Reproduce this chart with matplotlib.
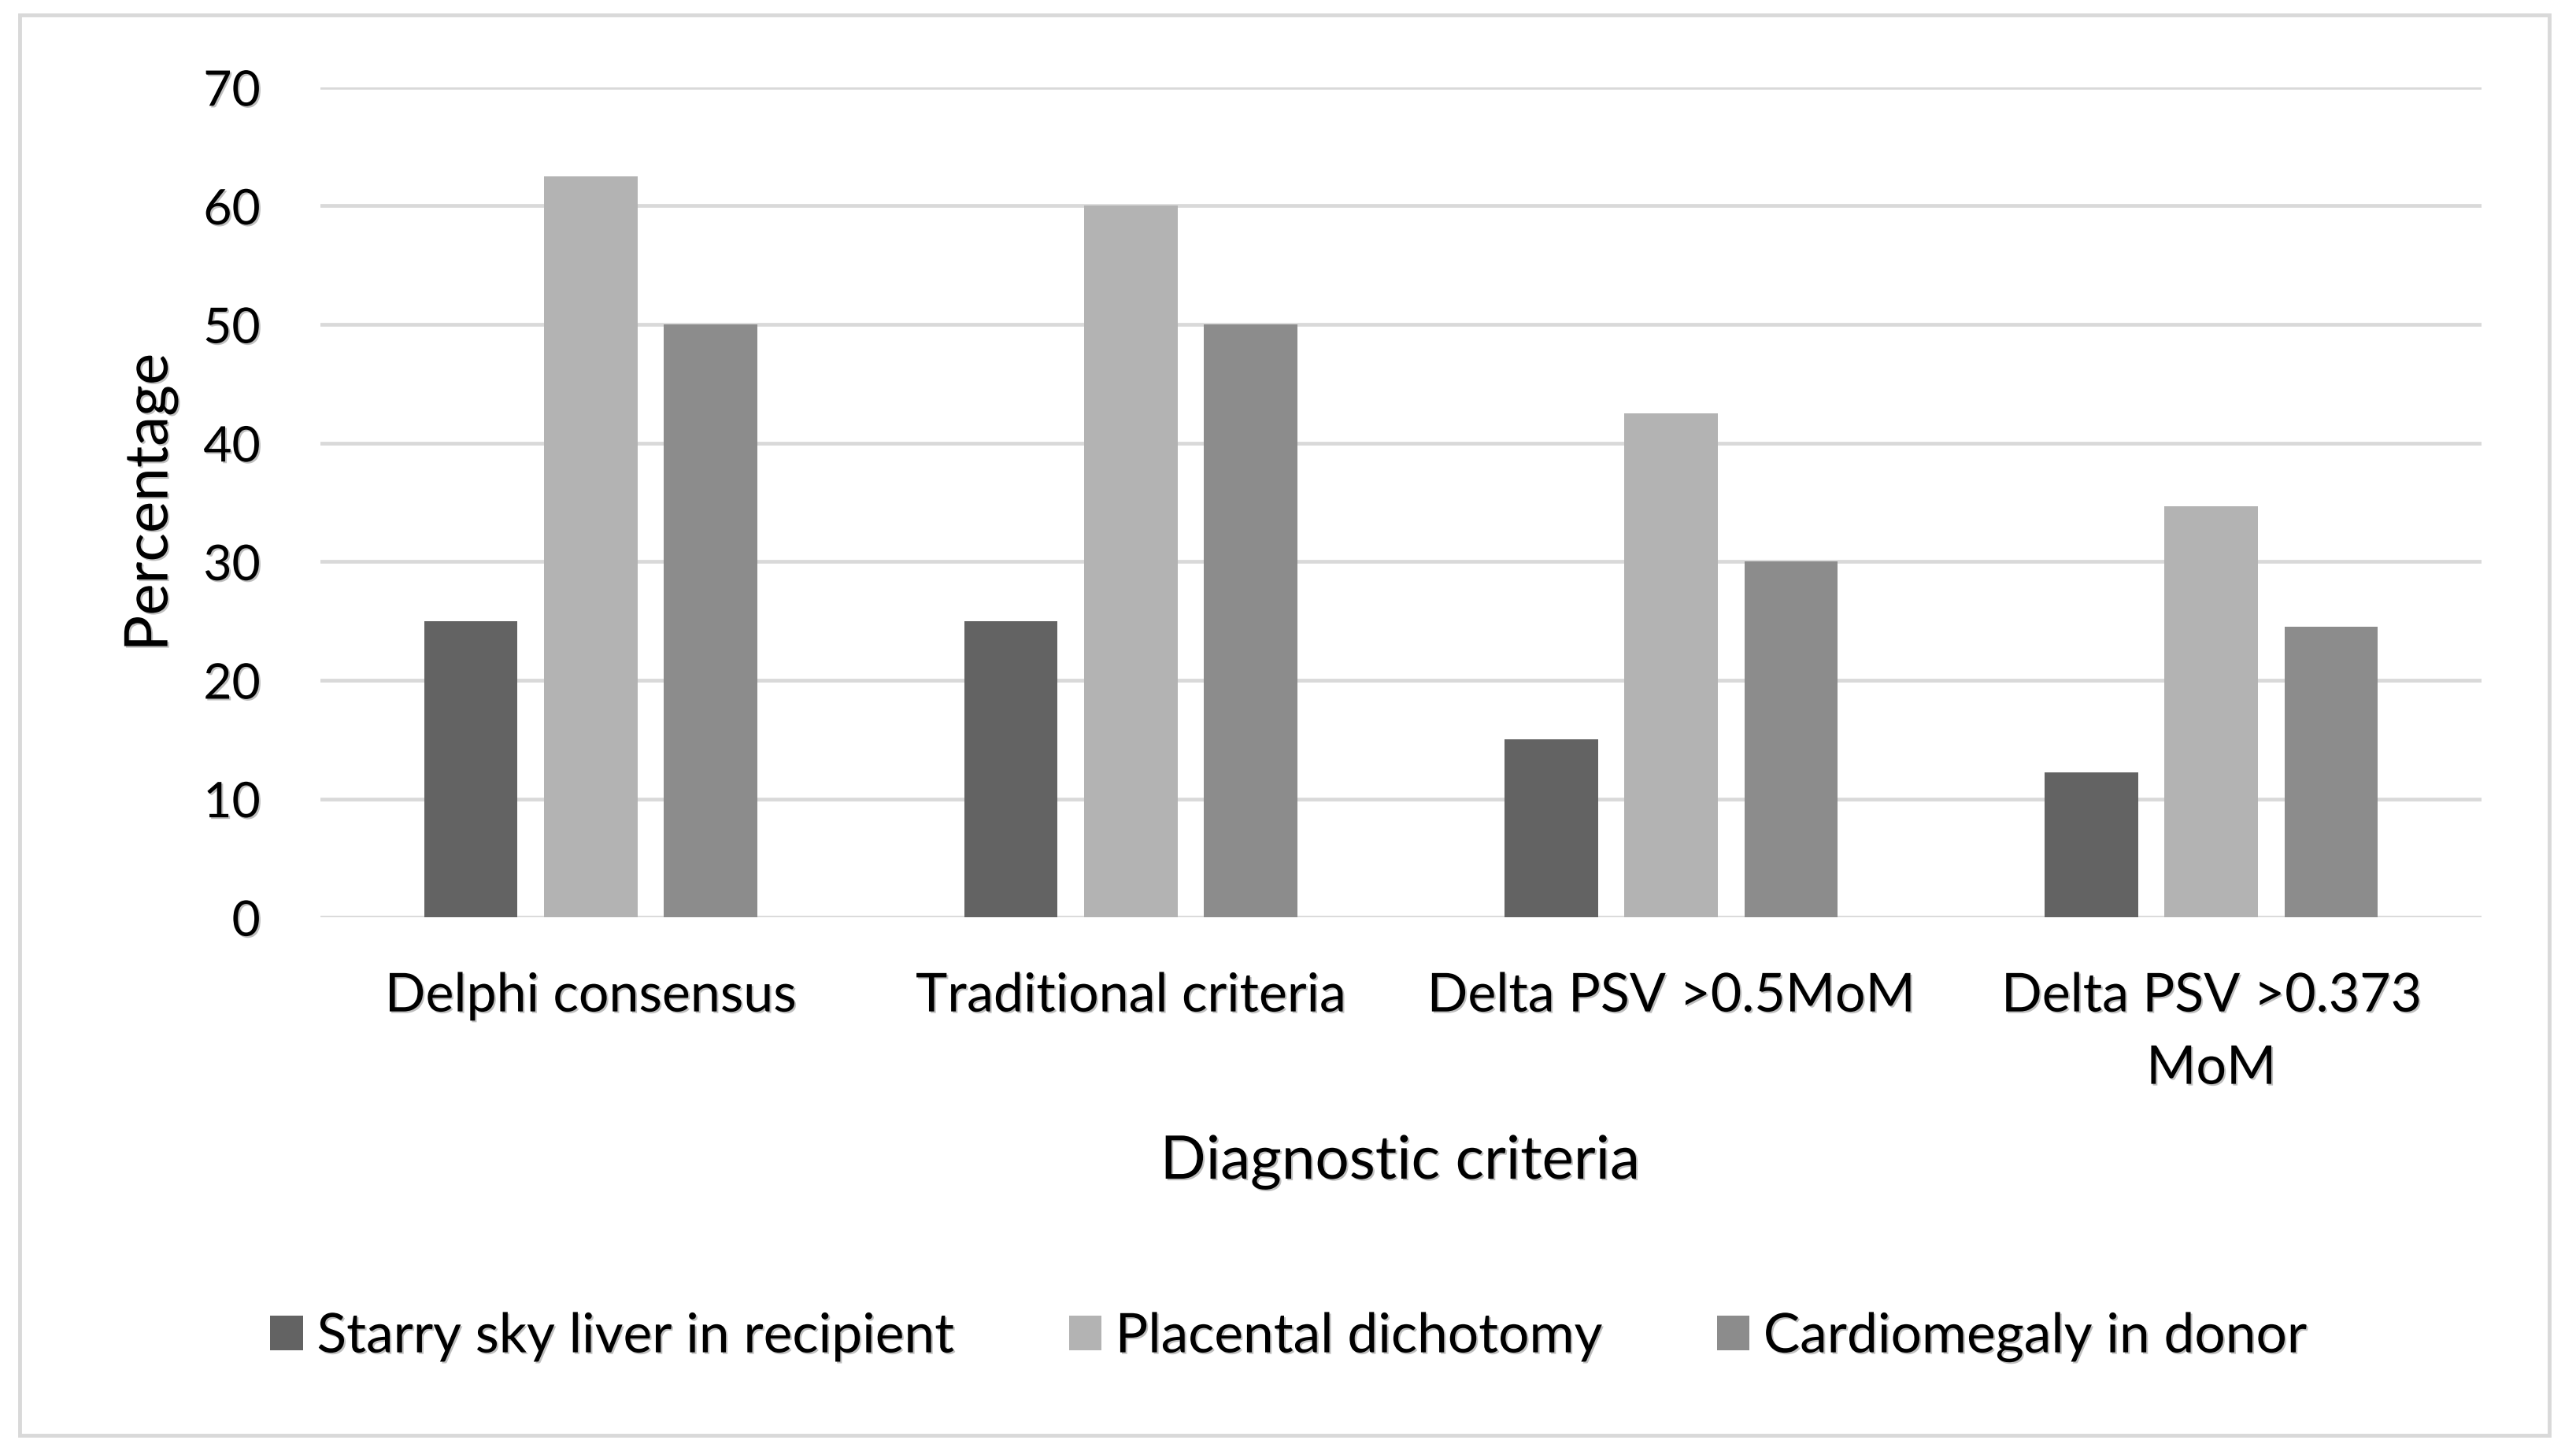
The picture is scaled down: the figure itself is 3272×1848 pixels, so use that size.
import matplotlib
matplotlib.use('Agg')
import matplotlib.pyplot as plt
import matplotlib.patheffects as pe
from matplotlib.patches import Rectangle, Patch
import numpy as np

categories = ['Delphi consensus', 'Traditional criteria',
              'Delta PSV >0.5MoM', 'Delta PSV >0.373\nMoM']
series_names = ['Starry sky liver in recipient', 'Placental dichotomy',
                'Cardiomegaly in donor']
starry_sky = [25, 25, 15, 12.2]
placental = [62.5, 60, 42.5, 34.7]
cardiomegaly = [50, 50, 30, 24.5]
y_ticks = [0, 10, 20, 30, 40, 50, 60, 70]

colors = ['#636363', '#b3b3b3', '#8c8c8c']
grid_color = '#d9d9d9'

plt.rcParams['font.family'] = ['Lato', 'DejaVu Sans']

# soft drop shadow like the original text
shadow = [pe.SimplePatchShadow(offset=(1.5, -1.5), shadow_rgbFace='#000000', alpha=0.25),
          pe.Normal()]

fig = plt.figure(figsize=(32.73, 18.48), dpi=100)
ax = fig.add_axes([0.1244, 0.3695, 0.8386, 0.5705])

x = np.arange(len(categories))
width = 0.173
step = 0.222
for i, (vals, c) in enumerate(zip([starry_sky, placental, cardiomegaly], colors)):
    ax.bar(x + (i - 1) * step, vals, width, color=c, zorder=3)

ax.set_xlim(-0.5, len(categories) - 0.5)
ax.set_ylim(0, 70)
ax.set_yticks(y_ticks)
ax.yaxis.grid(True, color=grid_color, linewidth=3.4, zorder=0)
ax.set_axisbelow(True)
for s in ax.spines.values():
    s.set_visible(False)
ax.tick_params(axis='both', length=0, colors='black')
ax.tick_params(axis='y', pad=55, labelsize=45)
ax.tick_params(axis='x', pad=50, labelsize=49)
ax.set_xticks(x)
ax.set_xticklabels(categories, linespacing=1.6)
for lab in ax.get_xticklabels() + ax.get_yticklabels():
    lab.set_path_effects(shadow)

ax.set_ylabel('Percentage', fontsize=55, labelpad=22, path_effects=shadow)
fig.text(0.5435, 0.201, 'Diagnostic criteria', fontsize=55, ha='center', va='center',
         path_effects=shadow)

handles = [Patch(facecolor=c, label=n) for c, n in zip(colors, series_names)]
leg = fig.legend(handles=handles, loc='center', bbox_to_anchor=(0.5, 0.081), ncol=3,
                 frameon=False, fontsize=50, handlelength=0.6, handleheight=0.6,
                 handletextpad=0.25, columnspacing=2.1)
for t in leg.get_texts():
    t.set_path_effects(shadow)

# outer chart border
fig.patches.append(Rectangle((0.0077, 0.0135), 0.9815, 0.976, transform=fig.transFigure,
                             fill=False, edgecolor=grid_color, linewidth=3.5))

fig.savefig('out.png', dpi=100)
